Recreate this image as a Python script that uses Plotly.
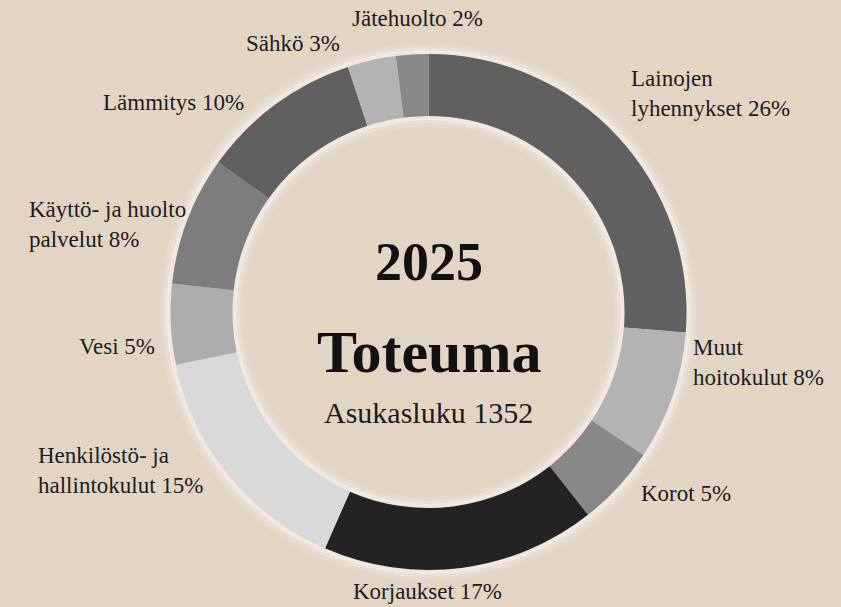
import plotly.graph_objects as go

W, H = 841, 607

categories = ["Lainojen lyhennykset", "Muut hoitokulut", "Korot", "Korjaukset",
              "Henkilöstö- ja hallintokulut", "Vesi", "Käyttö- ja huolto palvelut",
              "Lämmitys", "Sähkö", "Jätehuolto"]
values = [26, 8, 5, 17, 15, 5, 8, 10, 3, 2]
label_texts = ["Lainojen<br>lyhennykset 26%", "Muut<br>hoitokulut 8%", "Korot 5%",
               "Korjaukset 17%", "Henkilöstö- ja<br>hallintokulut 15%", "Vesi 5%",
               "Käyttö- ja huolto<br>palvelut 8%", "Lämmitys 10%", "Sähkö 3%",
               "Jätehuolto 2%"]
colors = ["#606060", "#b3b3b3", "#888888", "#232323", "#d9d9d9", "#adadad",
          "#7d7d7d", "#606060", "#b3b3b3", "#888888"]

title_year = "2025"
title_main = "Toteuma"
subtitle = "Asukasluku 1352"

FONT = "Liberation Serif, Times New Roman, serif"

cx, cy, R = 428.5, 312, 258
hole = 0.76

fig = go.Figure(go.Pie(
    labels=categories, values=values, sort=False, direction="clockwise",
    rotation=0, hole=hole, textinfo="none",
    marker=dict(colors=colors, line=dict(width=0)),
    domain=dict(x=[(cx - R) / W, (cx + R) / W], y=[1 - (cy + R) / H, 1 - (cy - R) / H]),
    showlegend=False,
))

# label placements (pixel positions, anchor)
placements = [
    (629, 93, "left"), (691, 362, "left"), (639, 493, "left"), (427, 591, "center"),
    (205, 471, "right"), (157, 346, "right"), (188, 224, "right"), (246, 103, "right"),
    (342, 44, "right"), (417, 18, "center"),
]
annotations = []
for txt, (px, py, anc) in zip(label_texts, placements):
    annotations.append(dict(text=txt, x=px / W, y=1 - py / H, xref="paper", yref="paper",
                            xanchor=anc, yanchor="middle", align="left", showarrow=False,
                            font=dict(family=FONT, size=23, color="#1c1c1c")))

annotations += [
    dict(text="<b>%s</b>" % title_year, x=cx / W, y=1 - 262 / H, xref="paper", yref="paper",
         showarrow=False, xanchor="center", yanchor="middle",
         font=dict(family=FONT, size=54, color="#111111")),
    dict(text="<b>%s</b>" % title_main, x=cx / W, y=1 - 352 / H, xref="paper", yref="paper",
         showarrow=False, xanchor="center", yanchor="middle",
         font=dict(family=FONT, size=60, color="#111111")),
    dict(text=subtitle, x=cx / W, y=1 - 412 / H, xref="paper", yref="paper",
         showarrow=False, xanchor="center", yanchor="middle",
         font=dict(family=FONT, size=30, color="#1c1c1c")),
]

# soft glow around the ring
shapes = []
for dr, op in [(2, 0.45), (5, 0.25), (8, 0.12), (11, 0.05)]:
    for r in (R + dr, R * hole - dr):
        shapes.append(dict(type="circle", xref="paper", yref="paper",
                           xsizemode="pixel", ysizemode="pixel",
                           xanchor=cx / W, yanchor=1 - cy / H,
                           x0=-r, x1=r, y0=-r, y1=r, layer="below",
                           line=dict(color="rgba(255,255,255,%.2f)" % op, width=4)))

fig.update_layout(
    width=W, height=H, margin=dict(l=0, r=0, t=0, b=0),
    paper_bgcolor="#e2d5c4", plot_bgcolor="#e2d5c4",
    annotations=annotations, shapes=shapes,
)

fig.write_html("out.html", config={"displayModeBar": False},
               post_script="document.body.style.margin='0';document.body.style.padding='0';"
                           "document.body.style.overflow='hidden';")
